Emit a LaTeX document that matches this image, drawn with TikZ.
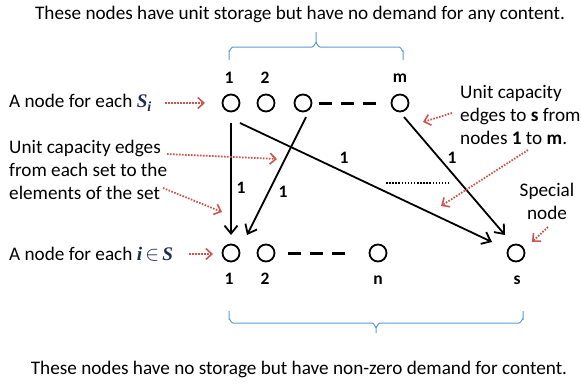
\documentclass[tikz,border=0pt]{standalone}
\usepackage{fontspec}
\setmainfont{Carlito}
\newfontfamily\serifbi[BoldItalicFont={* Bold Italic}]{Liberation Serif}
\usetikzlibrary{arrows.meta}
\definecolor{redc}{RGB}{205,85,80}
\definecolor{bluec}{RGB}{91,155,213}
\definecolor{navy}{RGB}{30,45,85}
\newcommand{\mathsi}{\textcolor{navy}{{\serifbi\bfseries\itshape S}\raisebox{-3.5pt}{\fontsize{14}{14}\serifbi\bfseries\itshape i}}}
\newcommand{\mathis}{\textcolor{navy}{{\serifbi\bfseries\itshape i}\,{\fontfamily{lmr}\selectfont$\in$}\,{\serifbi\bfseries\itshape S}}}
\begin{document}
\begin{tikzpicture}[x=1pt,y=-1pt,
 circ/.style={circle,draw,line width=1.8pt,minimum size=17pt,inner sep=0pt},
 lbl/.style={font=\fontsize{17.5}{19}\selectfont\bfseries,inner sep=0pt},
 txt/.style={font=\fontsize{19.2}{22.8}\selectfont,inner sep=0pt},
 edgearrow/.style={line width=1.8pt,-{Straight Barb[length=8pt,width=13pt,line width=1.8pt]}},
 ptr/.style={draw=redc,line width=1.8pt,dash pattern=on 1.6pt off 1.4pt,-{Straight Barb[length=6pt,width=11pt,line width=1.6pt]}},
 brc/.style={draw=bluec,line width=1pt},
 dsh/.style={line width=3pt,dash pattern=on 13pt off 9pt}]
\useasboundingbox (0,0) rectangle (581,384);

% texts
\node[txt] (toptxt) at (300,14) {These nodes have unit storage but have no demand for any content.};
\node[txt] (bottxt) at (299,369) {These nodes have no storage but have non-zero demand for content.};
\node[txt,anchor=west] (tS) at (9,103) {A node for each \mathsi};
\node[txt,anchor=west,align=left] (tU) at (9,170) {Unit capacity edges\\from each set to the\\elements of the set};
\node[txt,anchor=west] (tI) at (9,254) {A node for each \mathis};
\node[txt,anchor=west,align=left] (tR) at (460,115) {Unit capacity\\edges to \textbf{s} from\\nodes \textbf{1} to \textbf{m}.};
\node[txt,align=center] (tSp) at (547,201) {Special\\node};

% braces
\draw[brc] (229,60) -- (229,51) to[out=-90,in=180] (233,47) -- (312,47) to[out=0,in=90] (316,43) -- (316,32);
\draw[brc] (316,43) to[out=90,in=180] (320,47) -- (399,47) to[out=0,in=-90] (403,51) -- (403,60);
\draw[brc] (229,311) -- (229,319) to[out=90,in=180] (233,323) -- (372,323) to[out=0,in=-90] (376,327) -- (376,333);
\draw[brc] (376,327) to[out=-90,in=180] (380,323) -- (519,323) to[out=0,in=90] (523,319) -- (523,311);

% nodes
\node[circ] (t1) at (231,103) {};
\node[circ] (t2) at (266,103) {};
\node[circ] (t3) at (303,103) {};
\node[circ] (tm) at (400,103) {};
\node[circ] (b1) at (231,253) {};
\node[circ] (b2) at (266,253) {};
\node[circ] (bn) at (378,253) {};
\node[circ] (bs) at (516,253) {};

\node[lbl] (lt1) at (229,78) {1};
\node[lbl] (lt2) at (265,78) {2};
\node[lbl] (ltm) at (400,78) {m};
\node[lbl] (lb1) at (229,279) {1};
\node[lbl] (lb2) at (265,279) {2};
\node[lbl] (lbn) at (378,280) {n};
\node[lbl] (lbs) at (517,280) {s};

% dashes
\draw[dsh] ([xshift=7pt]t3.east) -- ([xshift=-14pt]tm.west);
\draw[dsh] ([xshift=13pt]b2.east) -- ([xshift=-22pt]bn.west);

% edges
\draw[edgearrow] ([yshift=-20pt]t1.center) -- ([yshift=18pt]b1.center);
\draw[edgearrow] ([shift={(3,14)}]t3.center) -- ([shift={(-19,-18)}]b2.center);
\draw[edgearrow] ([shift={(9,20)}]t1.center) -- ([shift={(-24,-11)}]bs.center);
\draw[edgearrow] ([shift={(4,14)}]tm.center) -- ([shift={(-11,-18)}]bs.center);

\node[lbl] (e1) at (241,188) {1};
\node[lbl] (e2) at (283,192) {1};
\node[lbl] (e3) at (344,158) {1};
\node[lbl] (e4) at (452,158) {1};

% dotted line
\coordinate (d1) at (386,183);
\coordinate (d2) at (449,183);
\draw[line width=1.6pt,dash pattern=on 1.5pt off 1.6pt] (d1) -- (d2);

% red pointers
\coordinate (p1a) at (165,103); \coordinate (p1b) at (205,103);
\coordinate (p2a) at (167,154); \coordinate (p2b) at (277,159);
\coordinate (p3a) at (163,188); \coordinate (p3b) at (222,212);
\coordinate (p4a) at (189,254); \coordinate (p4b) at (213,254);
\coordinate (p5a) at (452,113); \coordinate (p5b) at (423,122);
\coordinate (p6a) at (528,150); \coordinate (p6b) at (441,206);
\coordinate (p7a) at (548,227); \coordinate (p7b) at (532,242);
\draw[ptr] (p1a) -- (p1b);
\draw[ptr] (p2a) -- (p2b);
\draw[ptr] (p3a) -- (p3b);
\draw[ptr] (p4a) -- (p4b);
\draw[ptr] (p5a) -- (p5b);
\draw[ptr] (p6a) -- (p6b);
\draw[ptr] (p7a) -- (p7b);
\end{tikzpicture}
\end{document}
